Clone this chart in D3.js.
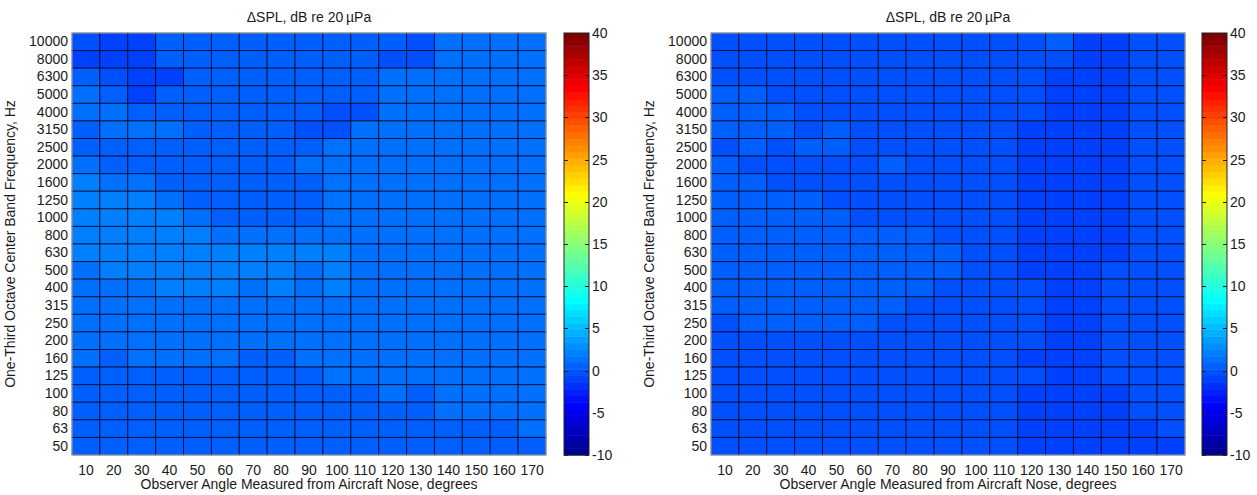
<!DOCTYPE html>
<html>
<head>
<meta charset="utf-8">
<script src="https://cdn.jsdelivr.net/npm/d3@7"></script>
<style>
  html, body { margin: 0; padding: 0; background: #fff; }
  svg { display: block; font-family: "Liberation Sans", Arial, Helvetica, sans-serif; }
</style>
</head>
<body>
<svg id="chart" width="1257" height="495"></svg>
<script>
// Observer angles (columns) and one-third octave band centres (rows, top to bottom)
const angles = [10, 20, 30, 40, 50, 60, 70, 80, 90, 100, 110, 120, 130, 140, 150, 160, 170];
const bands = ["10000", "8000", "6300", "5000", "4000", "3150", "2500", "2000", "1600", "1250",
               "1000", "800", "630", "500", "400", "315", "250", "200", "160", "125", "100", "80", "63", "50"];
const colorTicks = [40, 35, 30, 25, 20, 15, 10, 5, 0, -5, -10];

// ΔSPL (dB re 20 µPa), first configuration; rows follow `bands`
const deltaSplA = [
  [-0.2, -1.0, -1.0, 0.5, 0.5, 0.5, 0.5, 0.5, 0.5, 0.5, 0.5, 0.4, -0.2, 1.3, 1.3, 1.3, 1.3],
  [-1.0, -1.0, -1.0, 0.5, 0.5, 0.5, 0.5, 0.5, 0.5, 0.5, 0.5, -0.2, -0.2, 1.3, 1.3, 1.3, 1.3],
  [0.5, -0.2, -1.0, -1.2, 0.5, 0.5, 0.5, 0.5, 0.5, 0.5, 0.5, 1.3, 1.3, 1.3, 1.3, 1.3, 1.3],
  [1.3, 0.5, -1.0, 0.5, 0.5, 0.5, 0.5, 0.5, 0.5, 0.5, 0.4, 1.3, 1.3, 1.3, 1.3, 1.3, 1.3],
  [1.3, 1.3, 0.5, 0.5, 0.5, 0.5, 0.5, 0.5, 0.4, -0.2, -0.2, 1.3, 1.3, 1.3, 1.3, 1.3, 1.3],
  [0.5, 1.3, 1.3, 1.3, 0.5, 0.5, 0.5, 0.5, -0.2, -0.2, 1.3, 1.3, 1.3, 1.3, 1.3, 1.3, 1.3],
  [0.5, 0.5, 0.5, 0.5, 0.5, 0.5, 0.5, 0.5, 0.3, 1.3, 1.3, 1.3, 1.3, 1.3, 1.3, 1.3, 1.3],
  [1.3, 0.5, 0.5, 0.5, 0.5, 0.5, 0.5, 0.5, 1.3, 1.3, 1.3, 1.3, 1.3, 1.3, 1.3, 1.3, 1.3],
  [2.1, 1.3, 1.3, 0.5, 0.5, 0.5, 0.5, 0.5, 0.5, 1.3, 1.3, 1.3, 1.3, 1.3, 1.3, 1.3, 1.3],
  [2.1, 2.1, 2.1, 1.3, 0.5, 0.5, 0.5, 0.5, 0.5, 1.3, 1.3, 1.3, 1.3, 1.3, 1.3, 1.3, 1.3],
  [2.1, 2.1, 2.1, 2.1, 1.3, 0.5, 0.5, 0.5, 0.5, 1.3, 1.3, 1.3, 1.3, 1.3, 1.3, 1.3, 1.3],
  [2.1, 2.1, 2.1, 2.1, 2.1, 1.3, 1.3, 1.3, 1.3, 1.3, 1.3, 1.3, 1.3, 1.3, 1.3, 1.3, 1.3],
  [2.1, 2.1, 2.1, 2.1, 2.1, 2.1, 2.1, 2.1, 2.1, 2.1, 1.3, 1.3, 1.3, 1.3, 1.3, 1.3, 1.3],
  [1.3, 2.1, 2.1, 2.1, 2.1, 2.1, 2.1, 2.1, 1.3, 2.1, 1.3, 1.3, 1.3, 1.3, 1.3, 1.3, 1.3],
  [1.3, 1.3, 1.3, 2.1, 2.1, 2.1, 1.3, 2.1, 1.3, 2.1, 1.3, 1.3, 1.3, 1.3, 1.3, 1.3, 1.3],
  [1.3, 1.3, 1.3, 1.3, 1.3, 1.3, 1.3, 1.3, 1.3, 1.3, 1.3, 1.3, 1.3, 1.3, 1.3, 1.3, 1.3],
  [1.3, 1.3, 1.3, 1.3, 1.3, 1.3, 1.3, 1.3, 1.3, 1.3, 1.3, 1.3, 1.3, 1.3, 1.3, 1.3, 1.3],
  [1.3, 1.2, 1.3, 1.3, 1.3, 1.3, 1.3, 1.3, 1.3, 1.3, 1.3, 1.3, 1.3, 1.3, 1.3, 1.3, 1.3],
  [1.3, 0.5, 1.3, 1.3, 1.3, 1.3, 0.5, 0.5, 1.3, 1.3, 1.3, 1.3, 1.3, 1.3, 1.3, 1.3, 1.3],
  [0.5, 0.5, 0.5, 0.5, 0.5, 0.5, 0.5, 0.5, 0.5, 1.3, 1.3, 1.3, 1.3, 1.3, 1.3, 1.3, 1.3],
  [0.5, 0.5, 0.5, 0.5, 0.5, 0.5, 0.5, 0.5, 0.5, 0.5, 0.5, 1.3, 0.6, 1.3, 1.3, 1.3, 1.3],
  [0.5, 0.5, 0.5, 0.5, 0.5, 0.5, 0.5, 0.5, 0.5, 0.5, 0.5, 0.5, 0.5, 1.3, 1.3, 1.3, 1.3],
  [0.5, 0.5, 0.5, 0.5, 0.5, 0.5, 0.5, 0.5, 0.5, 0.5, 0.5, 0.5, 0.5, 0.5, 0.5, 0.5, 1.3],
  [0.5, 0.5, 0.5, 0.5, 0.5, 0.5, 0.5, 0.5, 0.5, 0.5, 0.5, 0.5, 0.5, 0.5, 0.5, 0.5, 0.5]
];

// ΔSPL (dB re 20 µPa), second configuration; rows follow `bands`
const deltaSplB = [
  [-0.2, -0.2, -0.2, -0.2, -0.2, -0.2, -0.2, -0.2, -0.2, -0.2, -0.2, -0.2, 0.2, -1.0, -1.0, -0.2, -0.2],
  [-0.2, -0.2, -0.2, -0.2, -0.2, -0.2, -0.2, -0.2, -0.2, -0.2, -0.2, -0.2, -0.2, -1.0, -1.0, -0.2, -0.2],
  [-0.2, -0.2, -0.2, -0.2, -0.2, -0.2, -0.2, -0.2, -0.2, -0.2, -0.2, -0.2, -1.0, -1.0, -1.0, -0.2, -0.2],
  [0.5, 0.5, -0.2, -0.2, -0.2, -0.2, -0.2, -0.2, -0.2, -0.2, -0.2, -0.2, -1.0, -1.0, -1.0, -0.2, -0.2],
  [0.5, 0.5, 0.5, -0.2, -0.2, -0.2, -0.2, -0.2, -0.2, -0.2, -0.2, -0.2, -1.0, -1.0, -1.0, -0.2, -0.2],
  [0.5, 0.5, 0.5, -0.2, 0.5, -0.2, -0.2, -0.2, -0.2, -0.2, -0.2, -1.0, -1.0, -1.0, -1.0, -0.2, -0.2],
  [-0.2, 0.5, -0.2, 0.5, 0.5, -0.2, -0.2, -0.2, -0.2, -0.2, -0.2, -1.0, -1.0, -1.0, -1.0, -0.2, -0.2],
  [0.5, -0.2, -0.2, -0.2, -0.2, -0.2, 0.5, -0.2, -0.2, -0.2, -0.2, -1.0, -1.0, -1.0, -1.0, -0.2, -0.2],
  [0.5, 0.5, -0.2, -0.2, -0.2, -0.2, -0.2, -0.2, -0.2, -0.2, -0.2, -1.0, -1.0, -1.0, -1.0, -0.2, -0.2],
  [0.5, 0.5, 0.5, 0.5, -0.2, -0.2, -0.2, -0.2, -0.2, -0.2, -0.2, -1.0, -1.0, -1.0, -1.0, -0.2, -0.2],
  [0.5, 0.5, 0.5, 0.5, 0.5, -0.2, -0.2, -0.2, -0.2, -0.2, -0.2, -1.0, -1.0, -1.0, -1.0, -0.2, -0.2],
  [0.5, 0.5, 0.5, 0.5, 0.5, 0.5, 0.5, 0.5, -0.2, -0.2, -0.2, -1.0, -1.0, -1.0, -1.0, -0.2, -0.2],
  [0.5, 0.5, 0.5, 0.5, 0.5, 0.5, 0.5, 0.5, 0.5, -0.2, -0.2, -1.0, -1.0, -1.0, -1.0, -0.2, -0.2],
  [0.5, 0.5, 0.5, 0.5, 0.5, 0.5, 0.5, 0.5, 0.5, -0.2, -0.2, -1.0, -1.0, -1.0, -0.2, -0.2, -0.2],
  [0.5, 0.5, 0.5, 0.5, 0.5, 0.5, 0.5, 0.5, -0.2, -0.2, -0.2, -0.2, -1.0, -1.0, -0.2, -0.2, -0.2],
  [0.5, 0.5, 0.5, 0.5, 0.5, 0.5, 0.5, -0.2, -0.2, -0.2, -0.2, -0.2, -1.0, -1.0, -0.2, -0.2, -0.2],
  [-0.2, 0.5, 0.5, 0.5, 0.5, 0.5, -0.2, -0.2, -0.2, -0.2, -0.2, -0.2, -1.0, -1.0, -0.2, -0.2, -0.2],
  [-0.2, -0.2, -0.2, -0.2, -0.2, -0.2, -0.2, -0.2, -0.2, -0.2, -0.2, -0.2, -1.0, -1.0, -0.2, -0.2, -0.2],
  [-0.2, -0.2, -0.2, -0.2, -0.2, -0.2, -0.2, -0.2, -0.2, -0.2, -0.2, -1.0, -1.0, -1.0, -0.2, -0.2, -0.2],
  [-0.2, -0.2, -0.2, -0.2, -0.2, -0.2, -0.2, -0.2, -0.2, -0.2, -0.2, -0.2, -1.0, -1.0, -0.2, -0.2, -0.2],
  [-0.2, -0.2, -0.2, -0.2, -0.2, -0.2, -0.2, -0.2, -0.2, -0.2, -0.2, -1.0, -1.0, -1.0, -1.0, -0.2, -0.2],
  [-0.2, -0.2, -0.2, -0.2, -0.2, -0.2, -0.2, -0.2, -0.2, -0.2, -0.2, -1.0, -1.0, -1.0, -1.0, -0.2, -0.2],
  [-0.2, -0.2, -0.2, -0.2, -0.2, -0.2, -0.2, -0.2, -0.2, -0.2, -0.2, -1.0, -1.0, -1.0, -1.0, -1.0, -0.2],
  [-0.2, -0.2, -0.2, -0.2, -0.2, -0.2, -0.2, -0.2, -0.2, -0.2, -0.2, -1.0, -1.0, -1.0, -1.0, -1.0, -1.0]
];

const titleText = "\u0394SPL, dB re 20\u2009\u00b5Pa";
const xTitle = "Observer Angle Measured from Aircraft Nose, degrees";
const yTitle = "One-Third Octave Center Band Frequency, Hz";

// 64-step "jet" colormap (dark blue → blue → cyan → yellow → red → dark red)
function jetColors(m) {
  const n = Math.ceil(m / 4);
  const u = [];
  for (let i = 1; i <= n; i++) u.push(i / n);
  for (let i = 1; i < n; i++) u.push(1);
  for (let i = n; i >= 1; i--) u.push(i / n);
  const gStart = Math.ceil(n / 2) - (m % 4 === 1 ? 1 : 0);
  const rgb = Array.from({ length: m }, () => [0, 0, 0]);
  u.forEach((val, k) => {
    const g = gStart + k, r = g + n, b = g - n;
    if (g >= 0 && g < m) rgb[g][1] = val;
    if (r >= 0 && r < m) rgb[r][0] = val;
    if (b >= 0 && b < m) rgb[b][2] = val;
  });
  return rgb.map(c => d3.rgb(c[0] * 255, c[1] * 255, c[2] * 255).formatHex());
}
const jet = jetColors(64);
const color = d3.scaleQuantize().domain([-10, 40]).range(jet);

const svg = d3.select("#chart");
const plotTop = 33, plotBottom = 455;
const textColor = "#1a1a1a";

function drawPanel(data, x0, x1, cbX) {
  const g = svg.append("g");
  const x = d3.scaleBand().domain(angles).range([x0, x1]).padding(0);
  const y = d3.scaleBand().domain(bands).range([plotTop, plotBottom]).padding(0);

  // cells
  bands.forEach((b, i) => {
    g.selectAll(null)
      .data(data[i].map((v, j) => ({ a: angles[j], b, v })))
      .join("rect")
      .attr("x", d => x(d.a))
      .attr("y", d => y(d.b))
      .attr("width", x.bandwidth())
      .attr("height", y.bandwidth())
      .attr("fill", d => color(d.v))
      .attr("stroke", "rgba(0,0,25,0.75)")
      .attr("stroke-width", 1);
  });

  // axes frame
  g.append("rect")
    .attr("x", x0).attr("y", plotTop)
    .attr("width", x1 - x0).attr("height", plotBottom - plotTop)
    .attr("fill", "none").attr("stroke", "#b8bcc8").attr("stroke-width", 1);

  // x ticks
  const xAxis = g.append("g").attr("transform", `translate(0,${plotBottom})`)
    .call(d3.axisBottom(x).tickSize(0).tickPadding(10));
  xAxis.select(".domain").remove();
  xAxis.selectAll("text").attr("font-size", 14).attr("fill", textColor)
    .attr("font-family", "Liberation Sans, Arial, sans-serif");

  // y ticks
  const yAxis = g.append("g").attr("transform", `translate(${x0},0)`)
    .call(d3.axisLeft(y).tickSize(0).tickPadding(4));
  yAxis.select(".domain").remove();
  yAxis.selectAll("text").attr("font-size", 14).attr("fill", textColor)
    .attr("font-family", "Liberation Sans, Arial, sans-serif");

  // titles
  g.append("text")
    .attr("x", (x0 + x1) / 2).attr("y", 22)
    .attr("text-anchor", "middle").attr("font-size", 14).attr("fill", textColor)
    .text(titleText);
  g.append("text")
    .attr("x", (x0 + x1) / 2).attr("y", 489)
    .attr("text-anchor", "middle").attr("font-size", 14).attr("fill", textColor)
    .text(xTitle);
  g.append("text")
    .attr("transform", `translate(${x0 - 57},${(plotTop + plotBottom) / 2}) rotate(-90)`)
    .attr("text-anchor", "middle").attr("font-size", 14).attr("fill", textColor)
    .text(yTitle);

  // colour bar
  const cbW = 25;
  const cy = d3.scaleLinear().domain([-10, 40]).range([plotBottom, plotTop]);
  const step = 50 / jet.length;
  g.selectAll(null)
    .data(jet)
    .join("rect")
    .attr("x", cbX)
    .attr("y", (c, i) => cy(-10 + (i + 1) * step))
    .attr("width", cbW)
    .attr("height", (c, i) => cy(-10 + i * step) - cy(-10 + (i + 1) * step) + 0.5)
    .attr("fill", c => c);
  g.append("rect")
    .attr("x", cbX).attr("y", plotTop).attr("width", cbW).attr("height", plotBottom - plotTop)
    .attr("fill", "none").attr("stroke", "#222").attr("stroke-width", 1);

  const cbTicks = g.append("g");
  colorTicks.forEach(t => {
    const yy = Math.round(cy(t)) + 0.5;
    cbTicks.append("line").attr("x1", cbX).attr("x2", cbX + 4).attr("y1", yy).attr("y2", yy)
      .attr("stroke", "#222");
    cbTicks.append("line").attr("x1", cbX + cbW - 4).attr("x2", cbX + cbW).attr("y1", yy).attr("y2", yy)
      .attr("stroke", "#222");
    cbTicks.append("text")
      .attr("x", cbX + cbW + 3).attr("y", cy(t)).attr("dy", "0.35em")
      .attr("font-size", 14).attr("fill", textColor)
      .text(t);
  });
}

drawPanel(deltaSplA, 72, 546, 564);
drawPanel(deltaSplB, 711, 1185, 1202);
</script>
</body>
</html>
